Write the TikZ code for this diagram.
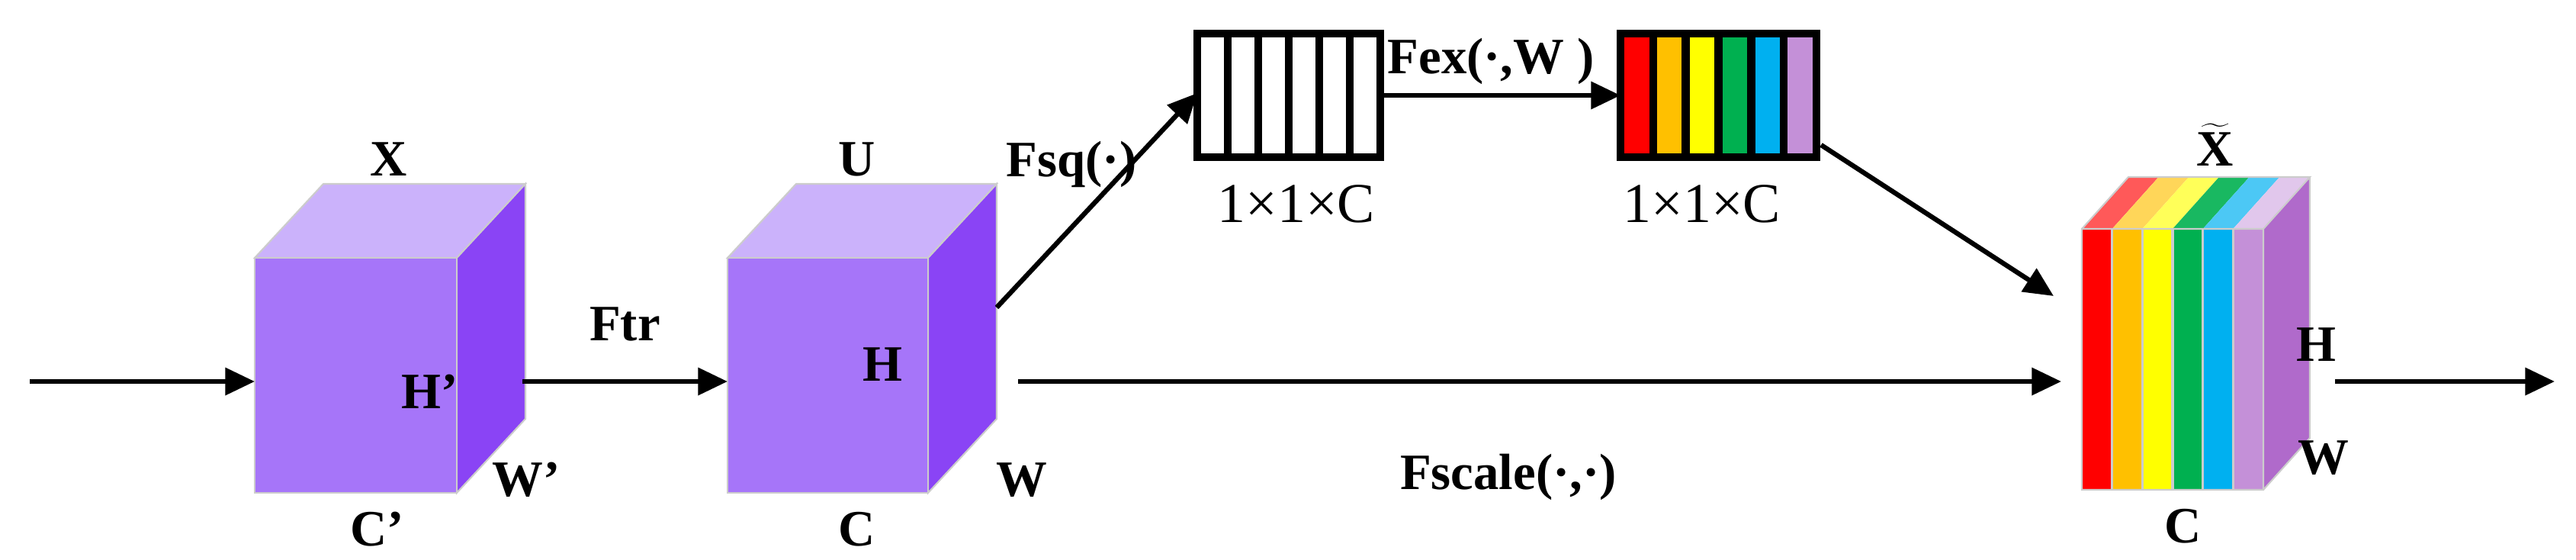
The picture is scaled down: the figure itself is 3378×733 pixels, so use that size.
\documentclass[tikz,border=0pt]{standalone}
\usepackage{fontspec}
\setmainfont{Liberation Serif}
\usetikzlibrary{arrows.meta}
\definecolor{cfront}{HTML}{A675F9}
\definecolor{ctop}{HTML}{CBB2FB}
\definecolor{cside}{HTML}{8A44F5}
\definecolor{sred}{HTML}{FF0000}
\definecolor{sorange}{HTML}{FFC000}
\definecolor{syellow}{HTML}{FFFF00}
\definecolor{sgreen}{HTML}{00B050}
\definecolor{sblue}{HTML}{00B0F0}
\definecolor{slilac}{HTML}{C490D8}
\definecolor{cside2}{HTML}{B06ACB}
\tikzset{
  lbl/.style={font=\fontsize{19}{22}\selectfont\bfseries, inner sep=0pt},
  dim/.style={font=\fontsize{21}{24}\selectfont, inner sep=0pt},
  flow/.style={line width=1.8pt, -{Triangle[length=11pt,width=10pt]}},
  face/.style={draw=gray!40, line width=0.6pt}
}
\begin{document}
\begin{tikzpicture}[x=0.01cm,y=-0.01cm]
            \useasboundingbox (0,0) rectangle (3378,733);

            % input cube X
            \fill[face,fill=ctop] (334,338)--(424,241)--(689,241)--(599,338)--cycle;
            \fill[face,fill=cside] (599,338)--(689,241)--(689,549)--(599,646)--cycle;
            \fill[face,fill=cfront] (334,338) rectangle (599,646);
            \coordinate (xin) at (334,500);
            \coordinate (xout) at (685,500);
            \node[lbl] (lx) at (510,209) {X};
            \node[lbl] (lh1) at (564,513) {H’};
            \node[lbl] (lw1) at (690,629) {W’};
            \node[lbl] (lc1) at (495,694) {C’};

            % cube U
            \fill[face,fill=ctop] (954,338)--(1044,241)--(1307,241)--(1217,338)--cycle;
            \fill[face,fill=cside] (1217,338)--(1307,241)--(1307,549)--(1217,646)--cycle;
            \fill[face,fill=cfront] (954,338) rectangle (1217,646);
            \coordinate (uin) at (954,500);
            \coordinate (uout) at (1335,500);
            \coordinate (usq) at (1307,403);
            \node[lbl] (lu) at (1124,209) {U};
            \node[lbl] (lh2) at (1157,478) {H};
            \node[lbl] (lw2) at (1340,629) {W};
            \node[lbl] (lc2) at (1124,694) {C};

            % squeeze vector
            \draw[line width=3pt] (1570,44) rectangle (1810,206);
            \foreach \i in {1,...,5}
                \draw[line width=3pt] ({1570+\i*240/6},44)--({1570+\i*240/6},206);
            \coordinate (sqin) at (1570,122);
            \coordinate (sqout) at (1810,125);
            \node[dim] (d1) at (1700,267) {1×1×C};

            % excitation vector
            \foreach \c [count=\i from 0] in {sred,sorange,syellow,sgreen,sblue,slilac}
                \fill[\c] ({2125+\i*257/6},44) rectangle ({2125+(\i+1)*257/6},206);
            \draw[line width=3pt] (2125,44) rectangle (2382,206);
            \foreach \i in {1,...,5}
                \draw[line width=3pt] ({2125+\i*257/6},44)--({2125+\i*257/6},206);
            \coordinate (exin) at (2125,125);
            \coordinate (exout) at (2388,190);
            \node[dim] (d2) at (2232,267) {1×1×C};

            % output cube
            \foreach \c [count=\i from 0] in {sred!65,sorange!65,syellow!65,sgreen!90!white,sblue!70,slilac!50}
                \fill[\c] ({2730+\i*238/6},300)--({2791+\i*238/6},232)--({2791+(\i+1)*238/6},232)--({2730+(\i+1)*238/6},300)--cycle;
            \fill[cside2] (2968,300)--(3029,232)--(3029,574)--(2968,642)--cycle;
            \foreach \c [count=\i from 0] in {sred,sorange,syellow,sgreen,sblue,slilac}
                \fill[\c] ({2730+\i*238/6},300) rectangle ({2730+(\i+1)*238/6},642);
            \foreach \i in {1,...,5}
                \draw[gray!40,line width=1pt] ({2730+\i*238/6},300)--({2730+\i*238/6},642);
            \draw[face] (2730,300) rectangle (2968,642) (2730,300)--(2791,232)--(3029,232)--(2968,300) (3029,232)--(3029,574)--(2968,642);
            \coordinate (oin) at (2703,500);
            \coordinate (osc) at (2693,388);
            \coordinate (oout) at (3062,500);
            \coordinate (end) at (3350,500);
            \coordinate (start) at (39,500);
            \node[lbl] (lxt) at (2905,190) {$\widetilde{\mathbf{X}}$};
            \node[lbl] (lh3) at (3037,452) {H};
            \node[lbl] (lw3) at (3047,600) {W};
            \node[lbl] (lc3) at (2863,690) {C};

            % connectors
            \draw[flow] (start) -- (xin);
            \draw[flow] (xout) -- (uin) node[lbl,midway,above=14pt] {Ftr};
            \draw[flow] (uout) -- (oin);
            \draw[flow] (usq) -- (sqin);
            \draw[flow] (sqout) -- (exin);
            \draw[flow] (exout) -- (osc);
            \draw[flow] (oout) -- (end);

            \node[lbl] (fsq) at (1405,215) {Fsq(·)};
            \node[lbl] (fex) at (1955,80) {Fex(·,W )};
            \node[lbl] (fsc) at (1978,625) {Fscale(·,·)};
        \end{tikzpicture}
\end{document}
